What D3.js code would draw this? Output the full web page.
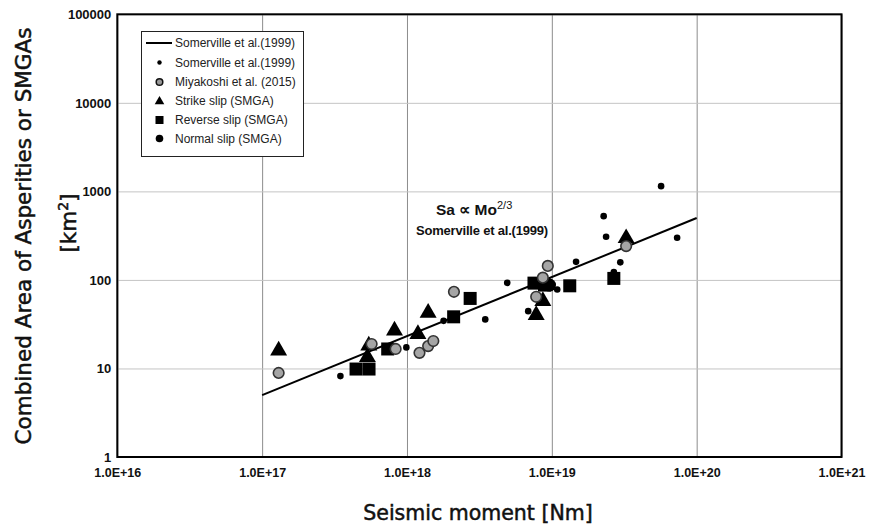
<!DOCTYPE html>
<html><head><meta charset="utf-8">
<script src="https://cdn.jsdelivr.net/npm/d3@7/dist/d3.min.js"></script>
<style>body{margin:0;background:#fff}</style>
</head><body>
<svg id="c" width="870" height="526"></svg>
<script>
// ---- data ----
const xTicks = [1e16, 1e17, 1e18, 1e19, 1e20, 1e21];
const yTicks = [1, 10, 100, 1000, 10000, 100000];
const lineMo = [1e17, 1e20];
const lineSa = [5, 500];
const somervilleMo = [3.47e17, 9.9e17, 1.79e18, 3.47e18, 4.92e18, 6.87e18, 1.09e19, 1.47e19, 2.97e19, 2.28e19, 2.37e19, 5.68e19, 7.33e19, 2.68e19];
const somervilleSa = [8.2, 17.3, 34.5, 35.8, 92.7, 44.4, 78, 160, 158, 525, 307, 1145, 299, 123];
const miyakoshiMo = [1.30e17, 5.7e17, 8.35e17, 1.22e18, 1.40e18, 1.52e18, 2.11e18, 7.8e18, 8.67e18, 9.38e18, 3.26e19];
const miyakoshiSa = [8.9, 18.9, 16.6, 15.0, 17.9, 20.4, 73.4, 64.5, 106, 144, 241];
const strikeMo = [1.30e17, 5.45e17, 5.33e17, 8.2e17, 1.19e18, 1.40e18, 8.67e18, 7.8e18, 3.26e19];
const strikeSa = [15.9, 18.1, 13.4, 26.8, 24.4, 42.5, 57.6, 40, 296];
const reverseMo = [4.45e17, 5.47e17, 7.36e17, 2.10e18, 2.73e18, 7.53e18, 8.9e18, 1.33e19, 2.68e19];
const reverseSa = [9.85, 9.85, 16.6, 38.3, 61.8, 92, 87.4, 85.8, 104];
const normalMo = [9.64e18];
const normalSa = [87.4];
const legendLabels = ["Somerville et al.(1999)", "Somerville et al.(1999)", "Miyakoshi et al. (2015)", "Strike slip (SMGA)", "Reverse slip (SMGA)", "Normal slip (SMGA)"];

// ---- layout ----
const L = 117.3, R = 841.5, T = 14.3, B = 457;
const svg = d3.select("#c");
const x = d3.scaleLog().domain([1e16, 1e21]).range([L, R]);
const y = d3.scaleLog().domain([1, 1e5]).range([B, T]);

// gridlines
svg.append("g").attr("transform", `translate(0,${B})`)
  .call(d3.axisBottom(x).tickValues(xTicks).tickSize(-(B - T)).tickFormat(""))
  .call(g => g.select(".domain").remove())
  .call(g => g.selectAll("line").attr("stroke", "#8c8c8c").attr("stroke-width", 1));
svg.append("g").attr("transform", `translate(${L},0)`)
  .call(d3.axisLeft(y).tickValues(yTicks).tickSize(-(R - L)).tickFormat(""))
  .call(g => g.select(".domain").remove())
  .call(g => g.selectAll("line").attr("stroke", "#c4c4c4").attr("stroke-width", 1));

// tick labels
svg.append("g").attr("transform", `translate(0,${B + 8})`)
  .call(d3.axisBottom(x).tickValues(xTicks).tickSize(0).tickPadding(0)
    .tickFormat(d => "1.0E+" + Math.round(Math.log10(d))))
  .call(g => g.select(".domain").remove())
  .call(g => g.selectAll("text").attr("font-family", "Liberation Sans, Arial, sans-serif")
    .attr("font-size", 12.5).attr("font-weight", "bold").attr("fill", "#111").attr("dy", "0.95em"));
svg.append("g").attr("transform", `translate(${L - 6},0)`)
  .call(d3.axisLeft(y).tickValues(yTicks).tickSize(0).tickPadding(0).tickFormat(d3.format("d")))
  .call(g => g.select(".domain").remove())
  .call(g => g.selectAll("text").attr("font-family", "Liberation Sans, Arial, sans-serif")
    .attr("font-size", 13).attr("font-weight", "bold").attr("fill", "#111"));

// frame
svg.append("rect").attr("x", L).attr("y", T).attr("width", R - L).attr("height", B - T)
  .attr("fill", "none").attr("stroke", "#000").attr("stroke-width", 2);

// trend line
const lineGen = d3.line().x(d => x(d[0])).y(d => y(d[1]));
svg.append("path").datum(d3.zip(lineMo, lineSa)).attr("d", lineGen)
  .attr("stroke", "#000").attr("stroke-width", 2).attr("fill", "none");

const tri = d3.symbol().type(d3.symbolTriangle).size(125);
// strike slip
svg.append("g").selectAll("path").data(d3.zip(strikeMo, strikeSa)).join("path")
  .attr("d", tri).attr("transform", d => `translate(${x(d[0])},${y(d[1])})`).attr("fill", "#000");
// reverse slip
svg.append("g").selectAll("rect").data(d3.zip(reverseMo, reverseSa)).join("rect")
  .attr("x", d => x(d[0]) - 6.5).attr("y", d => y(d[1]) - 6.5).attr("width", 13).attr("height", 13).attr("fill", "#000");
// normal slip
svg.append("g").selectAll("circle").data(d3.zip(normalMo, normalSa)).join("circle")
  .attr("cx", d => x(d[0])).attr("cy", d => y(d[1])).attr("r", 6.5).attr("fill", "#000");
// Somerville dots
svg.append("g").selectAll("circle").data(d3.zip(somervilleMo, somervilleSa)).join("circle")
  .attr("cx", d => x(d[0])).attr("cy", d => y(d[1])).attr("r", 3.3).attr("fill", "#000");
// Miyakoshi
svg.append("g").selectAll("circle").data(d3.zip(miyakoshiMo, miyakoshiSa)).join("circle")
  .attr("cx", d => x(d[0])).attr("cy", d => y(d[1])).attr("r", 5.3)
  .attr("fill", "#a5a5a5").attr("stroke", "#333").attr("stroke-width", 1.6);

// annotation
const ann = svg.append("text").attr("x", 436).attr("y", 215)
  .attr("font-family", "Liberation Sans, Arial, sans-serif").attr("font-size", 15.5).attr("font-weight", "bold").attr("fill", "#111");
ann.append("tspan").text("Sa \u221D  Mo");
ann.append("tspan").attr("dy", -6).attr("font-size", 11).attr("font-weight", "normal").text("2/3");
svg.append("text").attr("x", 482).attr("y", 235).attr("text-anchor", "middle")
  .attr("font-family", "Liberation Sans, Arial, sans-serif").attr("font-size", 13).attr("font-weight", "bold")
  .attr("letter-spacing", -0.2).attr("fill", "#111").text("Somerville et al.(1999)");

// legend
const lg = svg.append("g");
lg.append("rect").attr("x", 141.5).attr("y", 31.5).attr("width", 162).attr("height", 125)
  .attr("fill", "#fff").attr("stroke", "#222").attr("stroke-width", 1);
const ly = [43, 62.5, 82, 101, 120, 138.5];
const lx = 159.5;
lg.append("line").attr("x1", 146).attr("x2", 172).attr("y1", ly[0]).attr("y2", ly[0]).attr("stroke", "#000").attr("stroke-width", 2);
lg.append("circle").attr("cx", lx).attr("cy", ly[1]).attr("r", 2.2).attr("fill", "#000");
lg.append("circle").attr("cx", lx).attr("cy", ly[2]).attr("r", 3.3).attr("fill", "#999").attr("stroke", "#111").attr("stroke-width", 1.5);
lg.append("path").attr("d", d3.symbol().type(d3.symbolTriangle).size(40)).attr("transform", `translate(${lx},${ly[3] + 0.5})`).attr("fill", "#000");
lg.append("rect").attr("x", lx - 4).attr("y", ly[4] - 4).attr("width", 8).attr("height", 8).attr("fill", "#000");
lg.append("circle").attr("cx", lx).attr("cy", ly[5]).attr("r", 3.8).attr("fill", "#000");
lg.selectAll("text.l").data(legendLabels).join("text").attr("class", "l")
  .attr("x", 175).attr("y", (d, i) => ly[i]).attr("dy", "0.36em")
  .attr("font-family", "Liberation Sans, Arial, sans-serif").attr("font-size", 12).attr("fill", "#222").text(d => d);

// axis titles
svg.append("text").attr("x", 478).attr("y", 520).attr("text-anchor", "middle")
  .attr("font-family", "DejaVu Sans, sans-serif").attr("font-size", 20.5).attr("fill", "#111")
  .attr("stroke", "#111").attr("stroke-width", 0.5).text("Seismic moment [Nm]");
const yt = svg.append("text").attr("transform", "translate(31,236) rotate(-90)").attr("text-anchor", "middle")
  .attr("font-family", "DejaVu Sans, sans-serif").attr("font-size", 21.5).attr("fill", "#111")
  .attr("stroke", "#111").attr("stroke-width", 0.5);
yt.text("Combined Area of Asperities or SMGAs");
const yt2 = svg.append("text").attr("transform", "translate(76,223) rotate(-90)").attr("text-anchor", "middle")
  .attr("font-family", "DejaVu Sans, sans-serif").attr("font-size", 21.5).attr("fill", "#111")
  .attr("stroke", "#111").attr("stroke-width", 0.5);
yt2.append("tspan").text("[km");
yt2.append("tspan").attr("dy", -8).attr("font-size", 14).text("2");
yt2.append("tspan").attr("dy", 8).text("]");
</script>
</body></html>
